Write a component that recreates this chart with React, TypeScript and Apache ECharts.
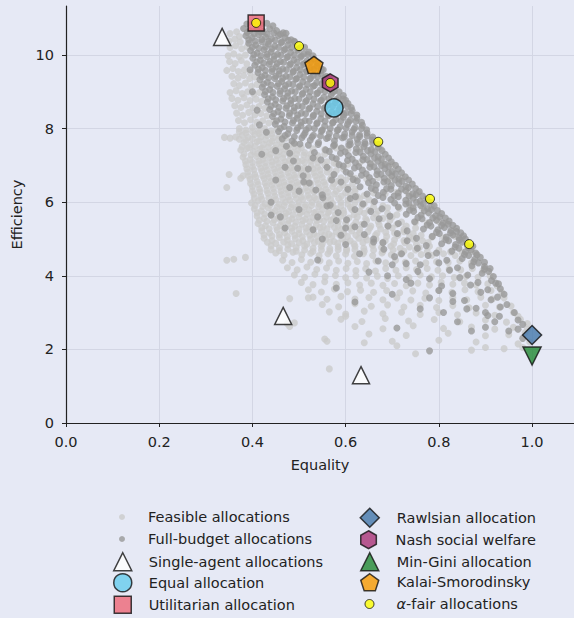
import React, { useEffect, useRef } from 'react';
import * as echarts from 'echarts';

// Feasible allocations (light gray)
const FEASIBLE: number[][] = [
  [.352,10.58],[.366,10.63],[.372,10.5],[.35,10.38],[.362,10.43],[.374,10.35],
  [.352,10.2],[.364,10.25],[.377,10.17],[.389,10.22],[.348,9.98],[.36,10.03],[.372,9.95],[.385,10.0],
  [.351,9.82],[.363,9.77],[.376,9.85],[.388,9.76],[.345,9.58],[.358,9.63],[.37,9.55],[.383,9.6],[.395,9.52],
  [.356,9.42],[.369,9.37],[.381,9.44],[.394,9.36],[.405,9.4],[.36,9.22],[.372,9.17],[.385,9.24],[.398,9.15],[.41,9.2],
  [.352,8.98],[.365,9.03],[.378,8.95],[.39,9.0],[.403,8.93],[.415,8.98],
  [.356,8.82],[.369,8.77],[.382,8.84],[.395,8.76],[.408,8.8],[.42,8.74],
  [.362,8.62],[.375,8.57],[.388,8.64],[.401,8.56],[.414,8.6],[.427,8.55],
  [.366,8.42],[.379,8.36],[.392,8.44],[.405,8.37],[.418,8.41],[.431,8.35],
  [.37,8.22],[.383,8.16],[.396,8.24],[.409,8.17],[.422,8.21],[.435,8.15],[.447,8.2],
  [.372,8.0],[.386,7.96],[.4,8.03],[.413,7.95],[.426,8.0],[.44,7.94],[.453,7.99],
  [.34,7.76],[.352,7.74],[.364,7.77],
  [.378,7.82],[.391,7.76],[.405,7.84],[.418,7.77],[.432,7.81],[.445,7.75],[.458,7.8],[.472,7.74],
  [.382,7.62],[.396,7.56],[.41,7.64],[.424,7.57],[.437,7.61],[.451,7.55],[.464,7.6],[.478,7.54],[.491,7.58],
  [.375,7.42],[.388,7.46],[.402,7.38],[.416,7.44],[.43,7.36],[.444,7.42],[.458,7.37],[.471,7.44],[.485,7.36],[.498,7.41],[.512,7.35],
  [.38,7.22],[.395,7.16],[.409,7.24],[.423,7.17],[.437,7.21],[.451,7.15],[.465,7.2],[.479,7.14],[.493,7.19],[.507,7.13],[.52,7.2],[.535,7.18],
  [.386,7.02],[.4,6.96],[.414,7.04],[.428,6.97],[.442,7.01],[.456,6.95],[.47,7.0],[.484,6.94],[.498,6.99],[.512,6.93],[.526,7.0],[.54,6.95],[.555,7.02],
  [.39,6.82],[.405,6.76],[.42,6.84],[.434,6.77],[.448,6.81],[.462,6.75],[.476,6.8],[.49,6.74],[.504,6.79],[.518,6.73],[.532,6.8],[.546,6.75],[.56,6.82],[.575,6.77],
  [.345,6.4],[.35,6.75],[.375,6.65],[.38,6.72],
  [.395,6.62],[.41,6.56],[.425,6.64],[.44,6.57],[.454,6.61],[.468,6.55],[.482,6.6],[.496,6.54],[.51,6.59],[.524,6.53],[.538,6.6],[.553,6.55],[.567,6.62],[.582,6.57],[.6,6.6],
  [.4,6.42],[.415,6.36],[.43,6.44],[.445,6.37],[.459,6.41],[.473,6.35],[.487,6.4],[.501,6.34],[.515,6.39],[.529,6.33],[.543,6.4],[.558,6.35],[.572,6.42],[.587,6.37],[.605,6.4],[.62,6.35],
  [.403,6.22],[.418,6.16],[.433,6.24],[.448,6.17],[.463,6.21],[.477,6.15],[.491,6.2],[.505,6.14],[.519,6.19],[.533,6.13],[.547,6.2],[.562,6.15],[.576,6.22],[.591,6.17],[.61,6.2],[.625,6.15],[.64,6.18],
  [.398,5.98],[.412,6.03],[.427,5.96],[.442,6.02],[.457,5.95],[.471,6.0],[.485,5.94],[.5,5.99],[.514,5.93],[.528,6.0],[.543,5.95],[.557,6.02],[.572,5.97],[.59,6.0],[.605,5.95],[.62,5.98],[.64,5.96],[.66,5.99],
  [.404,5.82],[.419,5.76],[.434,5.84],[.449,5.77],[.464,5.81],[.478,5.75],[.493,5.8],[.507,5.74],[.521,5.79],[.536,5.73],[.55,5.8],[.565,5.75],[.58,5.82],[.595,5.77],[.613,5.8],[.63,5.75],[.65,5.78],[.67,5.76],
  [.41,5.62],[.425,5.56],[.44,5.64],[.455,5.57],[.47,5.61],[.485,5.55],[.5,5.6],[.514,5.54],[.529,5.59],[.544,5.53],[.559,5.6],[.574,5.55],[.59,5.62],[.607,5.57],[.625,5.6],[.643,5.55],[.66,5.58],[.68,5.56],[.7,5.6],
  [.412,5.42],[.428,5.36],[.444,5.44],[.46,5.37],[.476,5.41],[.491,5.35],[.506,5.4],[.521,5.34],[.537,5.39],[.552,5.33],[.568,5.4],[.584,5.35],[.6,5.42],[.617,5.37],[.635,5.4],[.654,5.35],[.672,5.38],[.69,5.36],[.71,5.4],[.73,5.35],
  [.42,5.22],[.437,5.16],[.453,5.24],[.469,5.17],[.485,5.21],[.5,5.15],[.516,5.2],[.532,5.14],[.548,5.19],[.564,5.13],[.58,5.2],[.596,5.15],[.613,5.22],[.63,5.17],[.648,5.2],[.667,5.15],[.686,5.18],[.705,5.16],[.725,5.2],[.745,5.15],
  [.425,5.02],[.442,4.96],[.458,5.04],[.475,4.97],[.492,5.01],[.508,4.95],[.525,5.0],[.541,4.94],[.558,4.99],[.575,4.93],[.592,5.0],[.61,4.95],[.628,5.02],[.646,4.97],[.665,5.0],[.685,4.95],[.705,4.98],[.725,4.96],[.745,5.0],[.765,4.95],
  [.385,4.5],[.36,4.45],[.345,4.42],[.365,3.52],
  [.44,4.82],[.458,4.76],[.476,4.84],[.494,4.77],[.512,4.81],[.53,4.75],[.548,4.8],[.566,4.74],[.584,4.79],[.602,4.73],[.62,4.8],[.639,4.75],[.658,4.82],[.677,4.77],[.697,4.8],[.717,4.75],[.737,4.78],[.758,4.76],[.78,4.8],
  [.45,4.62],[.468,4.56],[.487,4.64],[.506,4.57],[.525,4.61],[.543,4.55],[.562,4.6],[.58,4.54],[.6,4.59],[.619,4.53],[.638,4.6],[.658,4.55],[.678,4.62],[.698,4.57],[.718,4.6],[.74,4.55],[.762,4.58],[.785,4.56],[.81,4.6],[.835,4.55],
  [.465,4.42],[.485,4.36],[.505,4.44],[.525,4.37],[.545,4.41],[.565,4.35],[.585,4.4],[.605,4.34],[.625,4.39],[.645,4.33],[.665,4.4],[.686,4.35],[.707,4.42],[.728,4.37],[.75,4.4],[.772,4.35],[.795,4.38],[.82,4.36],[.845,4.4],[.87,4.35],
  [.475,4.22],[.496,4.16],[.517,4.24],[.538,4.17],[.559,4.21],[.58,4.15],[.601,4.2],[.622,4.14],[.643,4.19],[.664,4.13],[.686,4.2],[.708,4.15],[.73,4.22],[.752,4.17],[.775,4.2],[.798,4.15],[.822,4.18],[.847,4.16],[.872,4.2],[.895,4.15],
  [.49,4.02],[.512,3.96],[.534,4.04],[.556,3.97],[.578,4.01],[.6,3.95],[.622,4.0],[.645,3.94],[.668,3.99],[.69,3.93],[.713,4.0],[.736,3.95],[.76,4.02],[.784,3.97],[.808,4.0],[.833,3.95],[.858,3.98],[.884,3.96],[.91,4.0],
  [.505,3.82],[.53,3.76],[.555,3.84],[.58,3.77],[.605,3.81],[.63,3.75],[.655,3.8],[.68,3.74],[.705,3.79],[.73,3.73],[.755,3.8],[.78,3.75],[.805,3.82],[.83,3.77],[.855,3.8],[.88,3.75],[.905,3.78],[.925,3.72],
  [.52,3.62],[.548,3.56],[.576,3.64],[.604,3.57],[.632,3.61],[.66,3.55],[.688,3.6],[.716,3.54],[.744,3.59],[.772,3.53],[.8,3.6],[.828,3.55],[.856,3.62],[.884,3.57],[.912,3.6],[.935,3.55],
  [.53,3.42],[.56,3.36],[.59,3.44],[.62,3.37],[.65,3.41],[.68,3.35],[.71,3.4],[.74,3.34],[.77,3.39],[.8,3.33],[.83,3.4],[.86,3.35],[.89,3.42],[.915,3.37],[.94,3.4],
  [.55,3.22],[.585,3.16],[.62,3.24],[.655,3.17],[.69,3.21],[.725,3.15],[.76,3.2],[.795,3.14],[.83,3.19],[.865,3.13],[.9,3.2],[.93,3.15],[.955,3.18],
  [.565,3.02],[.6,2.96],[.64,3.04],[.68,2.97],[.72,3.01],[.76,2.95],[.8,3.0],[.84,2.94],[.88,2.99],[.92,2.93],[.96,3.0],[.97,2.9],
  [.59,2.82],[.635,2.76],[.685,2.84],[.735,2.77],[.79,2.81],[.845,2.75],[.9,2.8],[.945,2.74],[.975,2.82],[.99,2.7],
  [.62,2.62],[.68,2.56],[.745,2.64],[.81,2.57],[.87,2.61],[.92,2.55],[.96,2.6],[.99,2.55],
  [.65,2.42],[.73,2.38],[.82,2.44],[.9,2.37],[.95,2.4],[.985,2.45],
  [.64,2.18],[.7,2.22],[.8,2.25],[.88,2.2],[.97,2.15],[.995,2.2],
  [.75,1.88],[.87,1.98],[.94,2.02],[.98,2.05],[.9,2.05],
  [.565,1.47],[.48,3.38],[.475,2.7],[.49,2.72],[.48,2.62],[.555,2.28],[.56,2.22],[.6,2.9],[.71,2.1],[.52,3.4],
  // in-between rows of the dense middle part
  [.372,7.91],[.386,7.88],[.4,7.92],[.414,7.87],[.428,7.9],[.442,7.86],
  [.372,7.71],[.386,7.68],[.4,7.72],[.414,7.67],[.428,7.7],[.442,7.66],[.456,7.7],
  [.378,7.51],[.392,7.48],[.406,7.52],[.42,7.47],[.434,7.5],[.448,7.46],[.462,7.5],[.476,7.47],[.49,7.51],[.505,7.48],
  [.382,7.31],[.397,7.28],[.411,7.32],[.425,7.27],[.439,7.3],[.453,7.26],[.467,7.3],[.481,7.27],[.495,7.31],[.51,7.28],[.525,7.31],[.54,7.27],[.555,7.3],
  [.385,7.11],[.4,7.08],[.414,7.12],[.428,7.07],[.442,7.1],[.456,7.06],[.47,7.1],[.484,7.07],[.498,7.11],[.512,7.08],[.526,7.11],[.54,7.07],[.56,7.1],[.575,7.06],
  [.388,6.91],[.403,6.88],[.418,6.92],[.432,6.87],[.446,6.9],[.46,6.86],[.474,6.9],[.488,6.87],[.502,6.91],[.516,6.88],[.53,6.91],[.545,6.87],[.565,6.9],[.58,6.86],[.595,6.9],
  [.392,6.71],[.407,6.68],[.422,6.72],[.436,6.67],[.45,6.7],[.464,6.66],[.478,6.7],[.492,6.67],[.506,6.71],[.52,6.68],[.535,6.71],[.55,6.67],[.57,6.7],[.59,6.66],[.61,6.7],
  [.396,6.51],[.412,6.48],[.427,6.52],[.442,6.47],[.456,6.5],[.47,6.46],[.484,6.5],[.498,6.47],[.512,6.51],[.526,6.48],[.541,6.51],[.556,6.47],[.575,6.5],[.595,6.46],[.615,6.5],
  [.4,6.31],[.416,6.28],[.431,6.32],[.446,6.27],[.461,6.3],[.476,6.26],[.49,6.3],[.504,6.27],[.518,6.31],[.532,6.28],[.547,6.31],[.562,6.27],[.58,6.3],[.6,6.26],[.62,6.3],
  [.404,6.11],[.42,6.08],[.435,6.12],[.45,6.07],[.465,6.1],[.48,6.06],[.494,6.1],[.508,6.07],[.522,6.11],[.537,6.08],[.552,6.11],[.568,6.07],[.585,6.1],[.605,6.06],[.63,6.1],[.65,6.07],
  [.406,5.91],[.422,5.88],[.438,5.92],[.453,5.87],[.468,5.9],[.483,5.86],[.498,5.9],[.512,5.87],[.527,5.91],[.542,5.88],[.557,5.91],[.573,5.87],[.59,5.9],[.61,5.86],[.635,5.9],[.66,5.87],[.68,5.9],
  [.41,5.71],[.426,5.68],[.442,5.72],[.457,5.67],[.472,5.7],[.487,5.66],[.502,5.7],[.517,5.67],[.532,5.71],[.547,5.68],[.562,5.71],[.578,5.67],[.596,5.7],[.618,5.66],[.64,5.7],[.665,5.67],[.69,5.7],[.71,5.66],
  [.415,5.51],[.431,5.48],[.447,5.52],[.463,5.47],[.478,5.5],[.493,5.46],[.508,5.5],[.523,5.47],[.538,5.51],[.553,5.48],[.568,5.51],[.584,5.47],[.602,5.5],[.622,5.46],[.645,5.5],[.67,5.47],[.695,5.5],[.72,5.46],
  [.42,5.31],[.436,5.28],[.452,5.32],[.468,5.27],[.484,5.3],[.5,5.26],[.515,5.3],[.53,5.27],[.545,5.31],[.56,5.28],[.576,5.31],[.592,5.27],[.61,5.3],[.63,5.26],[.652,5.3],[.675,5.27],[.7,5.3],[.725,5.26],[.75,5.3],
  [.425,5.11],[.442,5.08],[.458,5.12],[.475,5.07],[.491,5.1],[.507,5.06],[.523,5.1],[.539,5.07],[.555,5.11],[.571,5.08],[.587,5.11],[.604,5.07],[.622,5.1],[.642,5.06],[.664,5.1],[.688,5.07],[.712,5.1],[.737,5.06],[.762,5.1],
  [.432,4.91],[.45,4.88],[.467,4.92],[.484,4.87],[.5,4.9],[.517,4.86],[.533,4.9],[.55,4.87],[.566,4.91],[.583,4.88],[.6,4.91],[.618,4.87],[.637,4.9],[.657,4.86],[.68,4.9],[.703,4.87],[.727,4.9],[.752,4.86],[.777,4.9],
  [.44,4.71],[.458,4.68],[.476,4.72],[.494,4.67],[.512,4.7],[.53,4.66],[.548,4.7],[.566,4.67],[.584,4.71],[.602,4.68],[.62,4.71],[.64,4.67],[.66,4.7],[.68,4.66],[.702,4.7],[.725,4.67],[.75,4.7],[.775,4.66],[.8,4.7],
  // light points under the dark band
  [.53,7.45],[.555,7.43],[.58,7.47],[.605,7.44],[.63,7.46],[.655,7.42],[.675,7.45],
  [.58,7.05],[.605,7.03],[.63,7.07],[.655,7.04],[.68,7.06],[.7,7.02],
  [.62,6.65],[.645,6.63],[.67,6.67],[.695,6.64],[.72,6.66],
  [.66,6.25],[.685,6.23],[.71,6.27],[.735,6.24],[.755,6.26],
  [.69,5.85],[.715,5.83],[.74,5.87],[.765,5.84],[.785,5.86],
  [.75,5.45],[.775,5.43],[.8,5.47],[.815,5.44],
  [.785,5.05],[.81,5.03],[.835,5.07],[.85,5.04],
  [.825,4.65],[.85,4.63],[.87,4.66],
];

// Full-budget allocations (darker gray)
const FULL_BUDGET: number[][] = [
  [.388,10.84],[.402,10.88],[.417,10.83],[.431,10.86],[.444,10.79],
  [.381,10.72],[.394,10.66],[.409,10.7],[.423,10.64],[.437,10.71],[.452,10.66],[.466,10.6],
  [.386,10.52],[.399,10.47],[.413,10.55],[.428,10.49],[.441,10.44],[.456,10.53],[.47,10.47],[.483,10.41],
  [.392,10.32],[.407,10.27],[.42,10.36],[.434,10.3],[.448,10.24],[.462,10.33],[.476,10.27],[.49,10.35],[.503,10.2],
  [.396,10.12],[.41,10.05],[.425,10.14],[.44,10.08],[.454,10.02],[.468,10.13],[.482,10.07],[.497,10.13],[.51,10.03],[.521,10.08],
  [.401,9.91],[.417,9.86],[.431,9.95],[.446,9.88],[.46,9.82],[.474,9.93],[.489,9.87],[.503,9.94],[.517,9.84],[.532,9.89],
  [.405,9.72],[.421,9.66],[.436,9.75],[.451,9.68],[.465,9.62],[.48,9.73],[.495,9.66],[.509,9.74],[.524,9.65],[.538,9.7],[.548,9.62],
  [.412,9.52],[.427,9.45],[.442,9.55],[.457,9.48],[.472,9.42],[.487,9.53],[.502,9.47],[.516,9.55],[.531,9.45],[.546,9.5],[.558,9.42],
  [.416,9.33],[.432,9.26],[.448,9.36],[.463,9.28],[.478,9.22],[.493,9.34],[.508,9.27],[.523,9.35],[.538,9.25],[.553,9.31],[.566,9.2],
  [.421,9.12],[.437,9.06],[.453,9.15],[.469,9.08],[.484,9.02],[.5,9.13],[.515,9.07],[.53,9.15],[.546,9.05],[.561,9.11],[.576,9.02],
  [.426,8.92],[.443,8.86],[.459,8.95],[.475,8.88],[.491,8.82],[.507,8.93],[.522,8.87],[.538,8.95],[.553,8.85],[.569,8.91],[.585,8.83],[.595,8.9],
  [.432,8.72],[.449,8.66],[.465,8.75],[.482,8.68],[.498,8.62],[.514,8.73],[.53,8.67],[.546,8.75],[.562,8.65],[.578,8.71],[.593,8.63],[.605,8.68],
  [.437,8.52],[.455,8.46],[.472,8.55],[.489,8.48],[.505,8.42],[.521,8.53],[.538,8.47],[.554,8.55],[.57,8.45],[.586,8.51],[.601,8.43],[.614,8.49],
  [.443,8.33],[.461,8.26],[.479,8.35],[.496,8.28],[.513,8.22],[.53,8.33],[.547,8.27],[.563,8.35],[.579,8.25],[.595,8.31],[.61,8.23],[.624,8.29],
  [.449,8.12],[.468,8.06],[.486,8.15],[.504,8.08],[.521,8.02],[.538,8.13],[.555,8.07],[.572,8.15],[.588,8.05],[.604,8.11],[.62,8.03],[.636,8.09],
  [.456,7.92],[.476,7.86],[.495,7.95],[.513,7.88],[.531,7.82],[.548,7.93],[.565,7.87],[.582,7.95],[.598,7.85],[.614,7.91],[.63,7.83],[.646,7.88],
  [.464,7.72],[.485,7.66],[.506,7.75],[.524,7.68],[.542,7.62],[.559,7.73],[.576,7.67],[.593,7.75],[.609,7.65],[.625,7.71],[.641,7.63],[.657,7.69],
  [.473,7.52],[.52,7.55],[.557,7.42],[.574,7.53],[.591,7.47],[.607,7.55],[.623,7.45],[.639,7.51],[.655,7.43],[.67,7.49],
  [.48,7.33],[.533,7.35],[.571,7.22],[.589,7.33],[.606,7.27],[.622,7.35],[.638,7.25],[.654,7.31],[.67,7.23],[.685,7.3],
  [.488,7.12],[.547,7.15],[.586,7.02],[.604,7.13],[.621,7.07],[.637,7.15],[.653,7.05],[.669,7.11],[.685,7.03],[.698,7.1],
  [.497,6.92],[.56,6.95],[.601,6.82],[.619,6.93],[.636,6.87],[.652,6.95],[.668,6.85],[.684,6.91],[.7,6.83],[.713,6.9],
  [.509,6.72],[.575,6.75],[.616,6.62],[.634,6.73],[.651,6.67],[.667,6.75],[.683,6.65],[.699,6.71],[.714,6.63],[.728,6.69],
  [.522,6.52],[.59,6.55],[.631,6.42],[.649,6.53],[.666,6.47],[.682,6.55],[.698,6.45],[.714,6.51],[.729,6.43],[.743,6.49],
  [.536,6.33],[.605,6.35],[.646,6.22],[.664,6.33],[.681,6.27],[.697,6.35],[.713,6.25],[.729,6.31],[.744,6.23],[.758,6.29],
  [.551,6.12],[.621,6.15],[.662,6.02],[.68,6.13],[.697,6.07],[.713,6.15],[.729,6.05],[.745,6.11],[.76,6.03],[.774,6.09],
  [.567,5.92],[.637,5.95],[.678,5.82],[.713,5.87],[.729,5.95],[.745,5.85],[.761,5.91],[.776,5.83],[.79,5.9],
  [.584,5.72],[.654,5.75],[.695,5.62],[.73,5.67],[.746,5.75],[.762,5.65],[.778,5.71],[.793,5.63],[.806,5.69],
  [.602,5.52],[.672,5.55],[.713,5.42],[.748,5.47],[.764,5.55],[.78,5.45],[.795,5.51],[.809,5.43],[.822,5.49],
  [.62,5.33],[.691,5.35],[.732,5.22],[.767,5.27],[.783,5.35],[.798,5.25],[.812,5.31],[.826,5.23],[.838,5.29],
  [.64,5.12],[.711,5.15],[.752,5.02],[.786,5.07],[.801,5.15],[.816,5.05],[.83,5.11],[.843,5.03],[.853,5.09],
  [.66,4.92],[.732,4.95],[.773,4.82],[.806,4.87],[.821,4.95],[.836,4.85],[.849,4.91],[.861,4.83],
  [.682,4.72],[.754,4.75],[.795,4.62],[.828,4.67],[.843,4.75],[.857,4.65],[.869,4.71],[.879,4.62],
  [.705,4.52],[.777,4.55],[.817,4.42],[.85,4.47],[.864,4.55],[.877,4.45],[.889,4.5],
  [.73,4.33],[.8,4.35],[.84,4.22],[.871,4.27],[.885,4.35],[.898,4.25],
  [.755,4.12],[.823,4.15],[.862,4.02],[.893,4.07],[.907,4.12],
  [.78,3.92],[.845,3.95],[.884,3.82],[.913,3.87],[.922,3.8],
  [.806,3.72],[.868,3.75],[.905,3.62],[.932,3.65],
  [.83,3.52],[.89,3.55],[.926,3.42],[.94,3.5],
  [.855,3.33],[.912,3.35],[.946,3.22],
  [.88,3.12],[.932,3.15],[.962,3.0],
  [.905,2.92],[.97,2.8],[.98,2.68],
  [.44,5.65],[.46,5.6],[.54,4.43],[.58,3.67],[.62,3.29],[.71,2.58],[.78,1.96],[.5,6.3],[.47,6.95],[.53,5.25],
  [.6,4.85],[.65,4.1],[.7,3.5],[.76,3.1],[.84,2.75],[.9,2.6],[.45,7.4],[.56,5.9],[.59,5.1],[.67,4.4],
  [.74,3.8],[.81,3.0],[.87,2.5],[.92,2.75],[.98,2.3],
  // scattered full-budget points inside the light part
  [.43,7.9],[.41,8.5],[.42,7.3],[.45,6.6],[.48,6.4],[.44,6.0],[.5,5.8],[.47,5.3],[.52,6.9],[.55,6.2],
  [.58,5.5],[.62,5.8],[.49,7.6],[.53,7.2],[.57,6.6],[.61,6.1],[.64,5.4],[.55,5.0],[.68,4.9],[.72,4.6],
  [.63,4.6],[.76,4.3],[.69,4.0],[.8,3.6],[.86,3.1],[.93,2.9],[.95,2.5],[.4,9.0],[.395,9.6],[.415,8.1],
  [.51,6.55],[.54,5.6],[.6,5.3],[.66,5.0],[.7,4.3],[.73,3.9],[.78,3.4],[.83,3.3],[.9,3.0],[.97,2.55],
  // in-between rows of the dense band
  [.389,10.61],[.404,10.58],[.418,10.62],[.432,10.57],[.446,10.6],[.46,10.56],[.472,10.59],
  [.392,10.41],[.406,10.38],[.42,10.42],[.435,10.37],[.449,10.4],[.463,10.36],[.477,10.4],[.49,10.37],
  [.4,10.21],[.414,10.18],[.428,10.22],[.442,10.17],[.456,10.2],[.47,10.16],[.484,10.2],[.498,10.17],[.512,10.21],
  [.403,10.01],[.418,9.98],[.432,10.02],[.447,9.97],[.461,10.0],[.476,9.96],[.49,10.0],[.505,9.97],[.519,10.01],[.53,9.98],
  [.409,9.81],[.424,9.78],[.438,9.82],[.453,9.77],[.467,9.8],[.482,9.76],[.496,9.8],[.511,9.77],[.525,9.81],[.54,9.78],
  [.413,9.61],[.428,9.58],[.443,9.62],[.458,9.57],[.473,9.6],[.488,9.56],[.503,9.6],[.517,9.57],[.532,9.61],[.547,9.58],[.552,9.6],
  [.42,9.41],[.435,9.38],[.45,9.42],[.465,9.37],[.48,9.4],[.495,9.36],[.51,9.4],[.525,9.37],[.54,9.41],[.555,9.38],[.565,9.4],
  [.424,9.21],[.44,9.18],[.456,9.22],[.471,9.17],[.487,9.2],[.502,9.16],[.518,9.2],[.533,9.17],[.549,9.21],[.564,9.18],[.575,9.2],
  [.428,9.01],[.444,8.98],[.46,9.02],[.476,8.97],[.492,9.0],[.508,8.96],[.524,9.0],[.54,8.97],[.556,9.01],[.572,8.98],[.586,9.0],
  [.434,8.81],[.45,8.78],[.467,8.82],[.483,8.77],[.5,8.8],[.516,8.76],[.532,8.8],[.548,8.77],[.564,8.81],[.58,8.78],[.595,8.8],[.6,8.77],
  [.44,8.61],[.457,8.58],[.474,8.62],[.49,8.57],[.507,8.6],[.523,8.56],[.54,8.6],[.556,8.57],[.572,8.61],[.588,8.58],[.604,8.6],[.612,8.57],
  [.446,8.41],[.463,8.38],[.48,8.42],[.497,8.37],[.514,8.4],[.531,8.36],[.548,8.4],[.564,8.37],[.58,8.41],[.596,8.38],[.612,8.4],[.624,8.37],
  [.452,8.21],[.47,8.18],[.488,8.22],[.505,8.17],[.522,8.2],[.539,8.16],[.556,8.2],[.573,8.17],[.59,8.21],[.606,8.18],[.622,8.2],[.634,8.17],
  [.46,8.01],[.479,7.98],[.497,8.02],[.515,7.97],[.533,8.0],[.55,7.96],[.567,8.0],[.584,7.97],[.601,8.01],[.618,7.98],[.634,8.0],[.645,7.97],
  [.47,7.81],[.49,7.78],[.51,7.82],[.528,7.77],[.546,7.8],[.563,7.76],[.58,7.8],[.597,7.77],[.614,7.81],[.63,7.78],[.646,7.8],[.658,7.77],
  [.502,7.58],[.541,7.57],[.576,7.56],[.61,7.57],[.626,7.61],[.642,7.58],[.658,7.6],[.67,7.57],
  [.565,7.38],[.599,7.37],[.631,7.36],[.647,7.4],[.663,7.37],[.678,7.4],
  [.58,7.18],[.614,7.17],[.646,7.16],[.662,7.2],[.677,7.17],[.692,7.2],
  [.595,6.98],[.628,6.97],[.661,6.96],[.677,7.0],[.692,6.97],[.707,7.0],
  [.61,6.78],[.644,6.77],[.676,6.76],[.692,6.8],[.707,6.77],[.72,6.8],
  [.625,6.58],[.658,6.57],[.69,6.56],[.706,6.6],[.721,6.57],[.735,6.6],
  [.655,6.38],[.688,6.37],[.72,6.36],[.735,6.4],[.75,6.37],
  [.67,6.18],[.704,6.17],[.736,6.16],[.751,6.2],[.765,6.17],
  [.705,5.98],[.736,5.97],[.752,6.0],[.767,5.96],[.781,6.0],
  [.737,5.78],[.769,5.77],[.784,5.8],[.797,5.77],
  [.755,5.58],[.787,5.57],[.802,5.6],[.814,5.57],
  [.775,5.38],[.806,5.37],[.82,5.4],[.83,5.37],
  [.795,5.18],[.825,5.17],[.838,5.2],[.847,5.17],
  [.815,4.98],[.844,4.97],[.857,5.0],
  [.835,4.78],[.863,4.77],[.873,4.8],
  [.855,4.58],[.882,4.57],[.875,4.38],[.898,4.37],
  [.898,4.18],[.91,4.2],[.917,3.98],[.928,3.78],
];

const SINGLE_AGENT: number[][] = [[0.335, 10.49], [0.466, 2.91], [0.633, 1.3]];
const EQUAL: number[][] = [[0.575, 8.56]];
const UTILITARIAN: number[][] = [[0.408, 10.87]];
const RAWLSIAN: number[][] = [[1.0, 2.39]];
const NASH: number[][] = [[0.567, 9.24]];
const MIN_GINI: number[][] = [[1.0, 1.82]];
const KALAI: number[][] = [[0.532, 9.73]];
const ALPHA_FAIR: number[][] = [[0.408, 10.87], [0.5, 10.24], [0.567, 9.24], [0.67, 7.64], [0.781, 6.09], [0.865, 4.86]];

const X_TICKS = [0, 0.2, 0.4, 0.6, 0.8, 1.0];
const Y_TICKS = [0, 2, 4, 6, 8, 10];

const FONT = 'DejaVu Sans';
const FS = 14.5;
const HEX = 'path://M0,-1 L0.866,-0.5 L0.866,0.5 L0,1 L-0.866,0.5 L-0.866,-0.5 Z';
const PENT = 'path://M0,-1 L0.951,-0.309 L0.588,0.809 L-0.588,0.809 L-0.951,-0.309 Z';

export default function App() {
  const ref = useRef<HTMLDivElement>(null);
  useEffect(() => {
    if (!ref.current) return;
    const chart = echarts.init(ref.current, undefined, { renderer: 'svg' });
    const edge = { borderColor: '#111', borderWidth: 1.5 };
    const series: any[] = [
      { name: 'Feasible allocations', data: FEASIBLE, symbol: 'circle', symbolSize: 7, itemStyle: { color: '#cbcbcb' } },
      { name: 'Full-budget allocations', data: FULL_BUDGET, symbol: 'circle', symbolSize: 7, itemStyle: { color: '#999999' } },
      { name: 'Single-agent allocations', data: SINGLE_AGENT, symbol: 'triangle', symbolSize: 17, itemStyle: { color: '#ffffff', ...edge } },
      { name: 'Equal allocation', data: EQUAL, symbol: 'circle', symbolSize: 18, itemStyle: { color: '#66CCEE', ...edge } },
      { name: 'Utilitarian allocation', data: UTILITARIAN, symbol: 'rect', symbolSize: 16, itemStyle: { color: '#EE6677', ...edge } },
      { name: 'Rawlsian allocation', data: RAWLSIAN, symbol: 'diamond', symbolSize: 19, itemStyle: { color: '#4477AA', ...edge } },
      { name: 'Nash social welfare', data: NASH, symbol: HEX, symbolKeepAspect: true, symbolSize: 18, itemStyle: { color: '#AA3377', ...edge } },
      { name: 'Min-Gini allocation', data: MIN_GINI, symbol: 'triangle', symbolRotate: 180, symbolSize: 18, itemStyle: { color: '#228833', ...edge } },
      { name: 'Kalai-Smorodinsky', data: KALAI, symbol: PENT, symbolKeepAspect: true, symbolSize: 18, itemStyle: { color: '#F79A00', ...edge } },
      { name: 'α-fair allocations', data: ALPHA_FAIR, symbol: 'circle', symbolSize: 9, itemStyle: { color: '#FFFF00', borderColor: '#111', borderWidth: 1 } },
    ].map((s, i) => ({ type: 'scatter', z: 2 + i, silent: true, ...s }));

    const rows = [517, 539, 561, 582, 604];
    const cols = [{ cx: 122, tx: 148 }, { cx: 369, tx: 396 }];
    const LH = 17;
    const legendItems = [
      { name: 'Feasible allocations', col: 0, row: 0, w: 6, bw: 0 },
      { name: 'Full-budget allocations', col: 0, row: 1, w: 6, bw: 0 },
      { name: 'Single-agent allocations', col: 0, row: 2, w: 18, bw: 1.5 },
      { name: 'Equal allocation', col: 0, row: 3, w: 18, bw: 1.5 },
      { name: 'Utilitarian allocation', col: 0, row: 4, w: 17, bw: 1.5 },
      { name: 'Rawlsian allocation', col: 1, row: 0, w: 19, bw: 1.5 },
      { name: 'Nash social welfare', col: 1, row: 1, w: 18, bw: 1.5 },
      { name: 'Min-Gini allocation', col: 1, row: 2, w: 18, bw: 1.5 },
      { name: 'Kalai-Smorodinsky', col: 1, row: 3, w: 18, bw: 1.5 },
      { name: 'α-fair allocations', col: 1, row: 4, w: 9, bw: 1 },
    ];
    const legend = legendItems.map((it) => {
      const c = cols[it.col];
      const pad = c.tx - (c.cx + it.w / 2 + 5);
      return {
        data: [it.name],
        orient: 'vertical',
        left: c.cx - it.w / 2,
        top: rows[it.row] - Math.max(it.w, LH) / 2,
        itemWidth: it.w,
        itemHeight: it.w,
        padding: 0,
        selectedMode: false,
        itemStyle: it.bw ? { borderColor: '#111', borderWidth: it.bw } : { borderWidth: 0 },
        formatter: it.name.startsWith('α') ? () => '{a|α}-fair allocations' : undefined,
        textStyle: {
          fontFamily: FONT, fontSize: FS, color: '#222', lineHeight: LH, padding: [0, 0, 0, pad],
          rich: { a: { fontFamily: FONT, fontSize: FS, fontStyle: 'italic', color: '#222', lineHeight: LH } },
        },
      };
    });

    const axisCommon = {
      type: 'value',
      nameLocation: 'middle',
      nameTextStyle: { fontFamily: FONT, fontSize: FS, color: '#222' },
      axisLine: { show: true, onZero: false, lineStyle: { color: '#222', width: 1.2 } },
      splitLine: { show: true, lineStyle: { color: '#d3d6e4', width: 1 } },
    };

    chart.setOption({
      animation: false,
      backgroundColor: '#e6e9f5',
      grid: { left: 66, right: 0, top: 6, bottom: 195, containLabel: false },
      xAxis: {
        ...axisCommon,
        min: 0, max: 1.09, interval: 0.2,
        name: 'Equality', nameGap: 34,
        axisTick: { show: true, length: 4, lineStyle: { color: '#222', width: 1 }, customValues: X_TICKS },
        axisLabel: {
          customValues: X_TICKS, margin: 11, fontFamily: FONT, fontSize: FS, color: '#222',
          formatter: (v: number) => v.toFixed(1),
        },
      },
      yAxis: {
        ...axisCommon,
        min: 0, max: 11.33, interval: 2,
        name: 'Efficiency', nameGap: 41,
        axisTick: { show: true, length: 4, lineStyle: { color: '#222', width: 1 }, customValues: Y_TICKS },
        axisLabel: {
          customValues: Y_TICKS, margin: 12, fontFamily: FONT, fontSize: FS, color: '#222',
          formatter: (v: number) => (Math.abs(v / 2 - Math.round(v / 2)) < 1e-6 ? String(Math.round(v)) : ''),
        },
      },
      legend,
      series,
    });
    return () => chart.dispose();
  }, []);
  return <div ref={ref} style={{ position: 'fixed', left: 0, top: 0, width: 574, height: 618 }} />;
}
